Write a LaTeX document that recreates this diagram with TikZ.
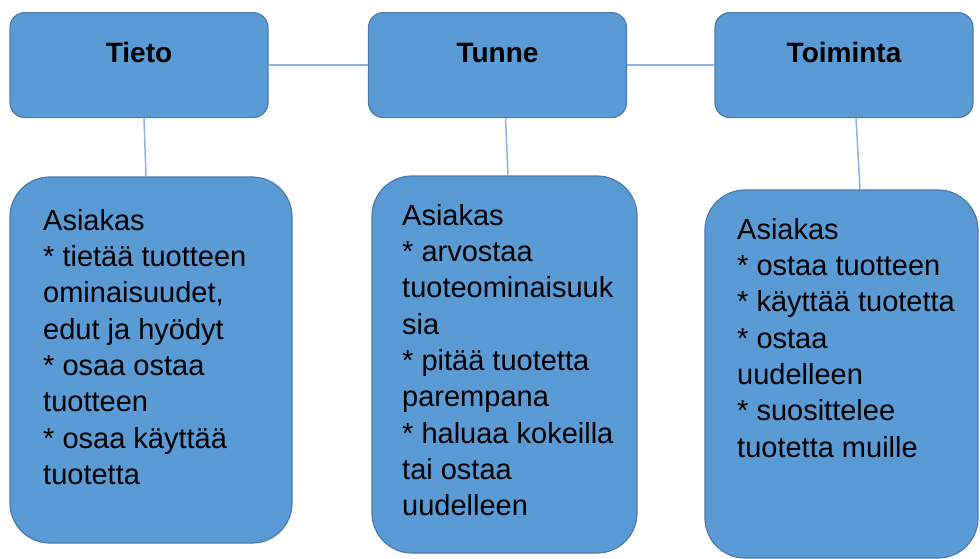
\documentclass[tikz,border=0pt]{standalone}
\usepackage{fontspec}
\setmainfont{Liberation Sans}
\usetikzlibrary{calc}

\definecolor{boxfill}{HTML}{5B9BD5}
\definecolor{boxline}{HTML}{4A7AAE}
\definecolor{linkline}{HTML}{8DB3E2}

\tikzset{
	headbox/.style={draw=boxline, fill=boxfill, line width=1.2pt, rounded corners=15pt,
		minimum width=258pt, inner sep=0pt, text height=50pt, text depth=55pt,
		font=\fontsize{28}{33}\selectfont\bfseries, anchor=north},
	infobox/.style={draw=boxline, fill=boxfill, line width=1.2pt, rounded corners=40pt, inner sep=0pt},
	infotext/.style={align=left, anchor=north west, inner sep=0pt, font=\fontsize{29}{36.3}\selectfont},
	link/.style={draw=linkline, line width=1.5pt}
}

\begin{document}
\begin{tikzpicture}[x=1pt, y=-1pt]
			%%%%% START %%%%%
			
			\useasboundingbox (0, 0) rectangle (980, 558);
			
			\node[headbox] (tieto) at (139, 12) {Tieto};
			\node[headbox] (tunne) at (497.5, 12) {Tunne};
			\node[headbox] (toiminta) at (844, 12) {Toiminta};
			
			\node[infobox, minimum width=282pt, minimum height=366pt] (tietoinfo) at (151, 360) {};
			\node[infobox, minimum width=265pt, minimum height=377pt] (tunneinfo) at (504.5, 364.5) {};
			\node[infobox, minimum width=273pt, minimum height=368pt] (toimintainfo) at (841.5, 374) {};
			
			\draw[link] (tieto.east) -- (tunne.west);
			\draw[link] (tunne.east) -- (toiminta.west);
			
			\draw[link] ($(tieto.south)+(5, 0)$) -- ($(tietoinfo.north)+(-5, 0)$);
			\draw[link] ($(tunne.south)+(8, 0)$) -- ($(tunneinfo.north)+(3.5, 0)$);
			\draw[link] ($(toiminta.south)+(12, 0)$) -- ($(toimintainfo.north)+(18.5, 0)$);
			
			\node[infotext] (tietotext) at (43, 209) {Asiakas\\* tietää tuotteen\\ominaisuudet,\\edut ja hyödyt\\* osaa ostaa\\tuotteen\\* osaa käyttää\\tuotetta};
			\node[infotext] (tunnetext) at (402, 204) {Asiakas\\* arvostaa\\tuoteominaisuuk\\sia\\* pitää tuotetta\\parempana\\* haluaa kokeilla\\tai ostaa\\uudelleen};
			\node[infotext] (toimintatext) at (737, 218) {Asiakas\\* ostaa tuotteen\\* käyttää tuotetta\\* ostaa\\uudelleen\\* suosittelee\\tuotetta muille};
			
			%%%%% END %%%%%
\end{tikzpicture}
\end{document}
